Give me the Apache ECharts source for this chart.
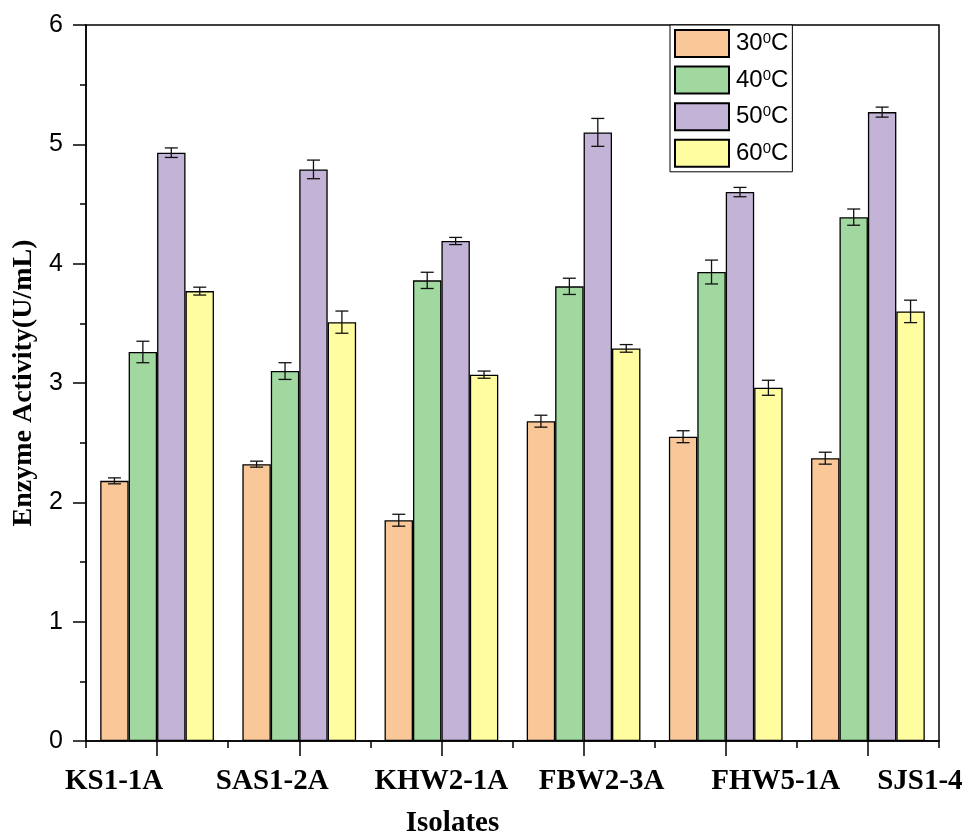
<!DOCTYPE html>
<html>
<head>
<meta charset="utf-8">
<script src="https://cdn.jsdelivr.net/npm/echarts@6/dist/echarts.min.js"></script>
<style>
html,body{margin:0;padding:0;background:#fff;}
#chart{width:967px;height:831px;}
</style>
</head>
<body>
<div id="chart"></div>
<script>
// ---- data ----
const isolates = ['KS1-1A', 'SAS1-2A', 'KHW2-1A', 'FBW2-3A', 'FHW5-1A', 'SJS1-4'];
const seriesNames = ['30\u2070C', '40\u2070C', '50\u2070C', '60\u2070C'];
const act30 = [2.18, 2.32, 1.85, 2.68, 2.55, 2.37];
const err30 = [0.025, 0.025, 0.05, 0.05, 0.05, 0.05];
const act40 = [3.26, 3.10, 3.86, 3.81, 3.93, 4.39];
const err40 = [0.09, 0.07, 0.068, 0.068, 0.10, 0.068];
const act50 = [4.93, 4.79, 4.19, 5.10, 4.60, 5.27];
const err50 = [0.04, 0.078, 0.03, 0.117, 0.039, 0.042];
const act60 = [3.77, 3.51, 3.07, 3.29, 2.96, 3.60];
const err60 = [0.033, 0.093, 0.03, 0.032, 0.063, 0.094];
const yTicks = [0, 1, 2, 3, 4, 5, 6];

// ---- styles ----
const colors = ['#FAC898', '#A0D89F', '#C3B3D6', '#FFFDA0'];
const values = [act30, act40, act50, act60];
const errors = [err30, err40, err50, err60];
const labelShift = [-43, -27, 0, 18, 50, 52]; // horizontal shift of category labels
const serif = '"Liberation Serif", "Times New Roman", serif';
const sans = '"Liberation Sans", Arial, sans-serif';

const rich = {};
labelShift.forEach((s, i) => {
  rich['l' + i] = {
    fontFamily: serif, fontWeight: 'bold', fontSize: 29, color: '#000',
    padding: s < 0 ? [0, -2 * s, 0, 0] : [0, 0, 0, 2 * s]
  };
});

const nBars = 4;
const catGap = 0.2;

const barSeries = values.map((vals, i) => ({
  name: seriesNames[i],
  type: 'bar',
  data: vals,
  barGap: '0%',
  barCategoryGap: '20%',
  itemStyle: { color: colors[i], borderColor: '#000', borderWidth: 1.3 },
  z: 2
}));

const errSeries = values.map((vals, i) => ({
  type: 'custom',
  data: vals.map((v, k) => [k, v, errors[i][k]]),
  encode: { x: 0, y: 1 },
  z: 5,
  silent: true,
  renderItem: function (params, api) {
    const k = api.value(0), v = api.value(1), e = api.value(2);
    const band = api.size([1, 0])[0];
    const bw = band * (1 - catGap) / nBars;
    const c = api.coord([k, v]);
    const x = c[0] + (i - (nBars - 1) / 2) * bw;
    const top = api.coord([k, v + e])[1];
    const bot = api.coord([k, v - e])[1];
    const half = 6.5;
    const st = { stroke: '#111', lineWidth: 1.3 };
    return {
      type: 'group',
      children: [
        { type: 'line', shape: { x1: x, y1: top, x2: x, y2: bot }, style: st },
        { type: 'line', shape: { x1: x - half, y1: top, x2: x + half, y2: top }, style: st },
        { type: 'line', shape: { x1: x - half, y1: bot, x2: x + half, y2: bot }, style: st }
      ]
    };
  }
}));

const chart = echarts.init(document.getElementById('chart'), null, { renderer: 'canvas' });
chart.setOption({
  animation: false,
  backgroundColor: '#fff',
  grid: {
    left: 86, top: 25, right: 28, bottom: 90,
    outerBoundsMode: 'none',
    show: true, borderColor: '#000', borderWidth: 1.5, backgroundColor: 'transparent'
  },
  legend: {
    data: seriesNames,
    orient: 'vertical',
    left: 670, top: 25,
    itemWidth: 54, itemHeight: 27, itemGap: 7.6,
    padding: [4, 4, 4, 4],
    borderColor: '#000', borderWidth: 1, backgroundColor: '#fff',
    icon: 'rect',
    formatter: function (name) { return '{n|' + name.replace('\u2070', '}{s|0}{n|') + '}'; },
    textStyle: {
      padding: [0, 0, 0, 2],
      rich: {
        n: { fontFamily: sans, fontSize: 24, color: '#000' },
        s: { fontFamily: sans, fontSize: 15, color: '#000', padding: [0, 0, 9, 0] }
      }
    }
  },
  xAxis: [
    {
      type: 'category',
      data: isolates,
      position: 'bottom',
      boundaryGap: true,
      axisLine: { lineStyle: { color: '#000', width: 1.5 } },
      axisTick: { show: true, alignWithLabel: true, length: 15, interval: 0, lineStyle: { color: '#000', width: 1.5 } },
      axisLabel: {
        interval: 0, margin: 26,
        formatter: function (v, idx) { return '{l' + idx + '|' + v + '}'; },
        rich: rich
      },
      name: 'Isolates',
      nameLocation: 'middle',
      nameGap: 68,
      nameTextStyle: { fontFamily: serif, fontWeight: 'bold', fontSize: 29, color: '#000', padding: [0, 120, 0, 0] }
    },
    {
      type: 'category',
      data: isolates,
      position: 'bottom',
      boundaryGap: true,
      axisLine: { show: false },
      axisTick: { show: true, length: 7, interval: 0, lineStyle: { color: '#000', width: 1.5 } },
      axisLabel: { show: false }
    }
  ],
  yAxis: {
    type: 'value',
    min: yTicks[0], max: yTicks[yTicks.length - 1], interval: 1,
    axisLine: { show: true, lineStyle: { color: '#000', width: 1.5 } },
    axisTick: { show: true, length: 13, lineStyle: { color: '#000', width: 1.5 } },
    minorTick: { show: true, splitNumber: 2, length: 6, lineStyle: { color: '#000', width: 1.5 } },
    splitLine: { show: false },
    axisLabel: { margin: 23, fontFamily: sans, fontSize: 25, color: '#000' },
    name: 'Enzyme Activity(U/mL)',
    nameLocation: 'middle',
    nameGap: 48,
    nameTextStyle: { fontFamily: serif, fontWeight: 'bold', fontSize: 28, color: '#000' }
  },
  series: barSeries.concat(errSeries)
});
</script>
</body>
</html>
